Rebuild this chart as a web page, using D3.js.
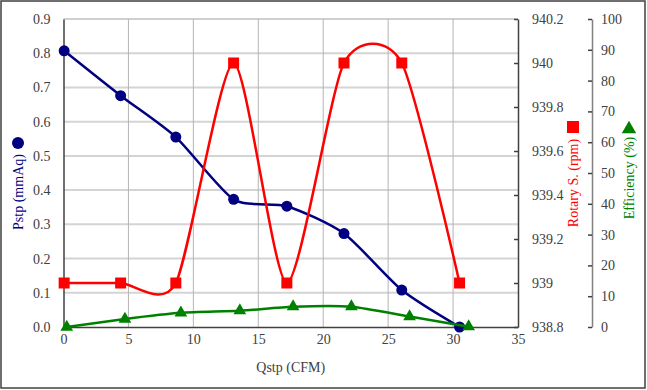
<html>
<script src="https://d3js.org/d3.v7.min.js"></script>
<body style="margin:0">
<svg id="chart" width="647" height="390"></svg>
<script>
// Data
const qstp = [0.05, 4.4, 8.65, 13.1, 17.2, 21.6, 26.05, 30.5];
const pstp = [0.807, 0.676, 0.555, 0.373, 0.353, 0.273, 0.108, 0.0];
const rotary = [939, 939, 939, 940, 939, 940, 940, 939];
const qstpEff = [0.25, 4.73, 9.04, 13.58, 17.68, 22.17, 26.65, 31.2];
const efficiency = [0, 2.6, 4.6, 5.3, 6.6, 6.6, 3.4, 0.1];

const xTicks = [0, 5, 10, 15, 20, 25, 30, 35];
const pTicks = [0, 0.1, 0.2, 0.3, 0.4, 0.5, 0.6, 0.7, 0.8, 0.9];
const rTicks = [938.8, 939, 939.2, 939.4, 939.6, 939.8, 940, 940.2];
const eTicks = [0, 10, 20, 30, 40, 50, 60, 70, 80, 90, 100];

const plotLeft = 63.5, plotRight = 518, plotTop = 19, plotBottom = 327;
const effAxisX = 592;
const font = "Liberation Serif, serif";

const svg = d3.select("#chart");

// outer frame
svg.append("rect")
  .attr("x", 1).attr("y", 1).attr("width", 644).attr("height", 387)
  .attr("fill", "white").attr("stroke", "#404040").attr("stroke-width", 1.5);

const x = d3.scaleLinear().domain([0, 35]).range([plotLeft, plotRight]);
const yP = d3.scaleLinear().domain([0, 0.9]).range([plotBottom, plotTop]);
const yR = d3.scaleLinear().domain([938.8, 940.2]).range([plotBottom, plotTop]);
const yE = d3.scaleLinear().domain([0, 100]).range([plotBottom, plotTop]);

// grid
svg.append("g").selectAll("line").data(pTicks.slice(1)).enter().append("line")
  .attr("x1", plotLeft).attr("x2", plotRight)
  .attr("y1", d => yP(d)).attr("y2", d => yP(d))
  .attr("stroke", d => d === 0.9 ? "#a0a0a0" : "#d4d4d4")
  .attr("stroke-width", d => d === 0.9 ? 1 : 2);
svg.append("g").selectAll("line").data(xTicks.slice(1, -1)).enter().append("line")
  .attr("x1", d => x(d)).attr("x2", d => x(d))
  .attr("y1", plotTop).attr("y2", plotBottom)
  .attr("stroke", "#b4b4b4").attr("stroke-width", 1);

// axes
const xAxis = svg.append("g").attr("transform", "translate(0," + plotBottom + ")")
  .call(d3.axisBottom(x).tickValues(xTicks).tickSize(0).tickPadding(7));
const pAxis = svg.append("g").attr("transform", "translate(" + plotLeft + ",0)")
  .call(d3.axisLeft(yP).tickValues(pTicks).tickFormat(d3.format(".1f")).tickSize(0).tickPadding(13));
const rAxis = svg.append("g").attr("transform", "translate(" + plotRight + ",0)")
  .call(d3.axisRight(yR).tickValues(rTicks).tickFormat(d => String(+d.toFixed(1))).tickSizeInner(-4).tickSizeOuter(0).tickPadding(14));
const eAxis = svg.append("g").attr("transform", "translate(" + effAxisX + ",0)")
  .call(d3.axisRight(yE).tickValues(eTicks).tickSizeInner(-4).tickSizeOuter(0).tickPadding(9));

[xAxis, pAxis, rAxis, eAxis].forEach(a => {
  a.attr("font-family", font).attr("font-size", 14);
  a.selectAll("text").attr("fill", "#404040");
  a.select(".domain").attr("stroke", "#404040").attr("stroke-width", 1.5);
  a.selectAll(".tick line").attr("stroke", "#404040").attr("stroke-width", 1.5);
});
eAxis.select(".domain").attr("stroke", "#808080");

// series (smoothed like the original)
const curve = d3.curveCardinal.tension(0.3);
const pData = qstp.map((q, i) => [q, pstp[i]]);
const rData = qstp.map((q, i) => [q, rotary[i]]);
const eData = qstpEff.map((q, i) => [q, efficiency[i]]);

svg.append("path").datum(pData)
  .attr("d", d3.line().x(d => x(d[0])).y(d => yP(d[1])).curve(curve))
  .attr("fill", "none").attr("stroke", "#000080").attr("stroke-width", 2.5);
svg.append("g").selectAll("circle").data(pData).enter().append("circle")
  .attr("cx", d => x(d[0])).attr("cy", d => yP(d[1])).attr("r", 5.5)
  .attr("fill", "#000080");

svg.append("path").datum(rData)
  .attr("d", d3.line().x(d => x(d[0])).y(d => yR(d[1])).curve(curve))
  .attr("fill", "none").attr("stroke", "#ff0000").attr("stroke-width", 2.5);
svg.append("g").selectAll("rect").data(rData).enter().append("rect")
  .attr("x", d => x(d[0]) - 5.5).attr("y", d => yR(d[1]) - 5.5)
  .attr("width", 11).attr("height", 11).attr("fill", "#ff0000");

svg.append("path").datum(eData)
  .attr("d", d3.line().x(d => x(d[0])).y(d => yE(d[1])).curve(curve))
  .attr("fill", "none").attr("stroke", "#008000").attr("stroke-width", 2.5);
const tri = d3.symbol().type(d3.symbolTriangle).size(70);
svg.append("g").selectAll("path").data(eData).enter().append("path")
  .attr("d", tri)
  .attr("transform", d => "translate(" + x(d[0]) + "," + yE(d[1]) + ")")
  .attr("fill", "#008000");

// axis titles
svg.append("text").attr("x", x(17.5)).attr("y", 372)
  .attr("text-anchor", "middle").attr("font-family", font).attr("font-size", 14)
  .attr("fill", "#404040").text("Qstp (CFM)");

function vTitle(cx, cy, label, color) {
  svg.append("text").attr("transform", "translate(" + cx + "," + cy + ") rotate(-90)")
    .attr("text-anchor", "middle").attr("dy", "0.35em")
    .attr("font-family", font).attr("font-size", 14)
    .attr("fill", color).text(label);
}
vTitle(18, 192, "Pstp (mmAq)", "#000080");
svg.append("circle").attr("cx", 18).attr("cy", 143).attr("r", 6).attr("fill", "#000080");

vTitle(573, 183, "Rotary S. (rpm)", "#ff0000");
svg.append("rect").attr("x", 567).attr("y", 121).attr("width", 12).attr("height", 12).attr("fill", "#ff0000");

vTitle(629, 178, "Efficiency (%)", "#008000");
svg.append("path").attr("d", d3.symbol().type(d3.symbolTriangle).size(90))
  .attr("transform", "translate(629,129)").attr("fill", "#008000");
</script>
</body>
</html>
